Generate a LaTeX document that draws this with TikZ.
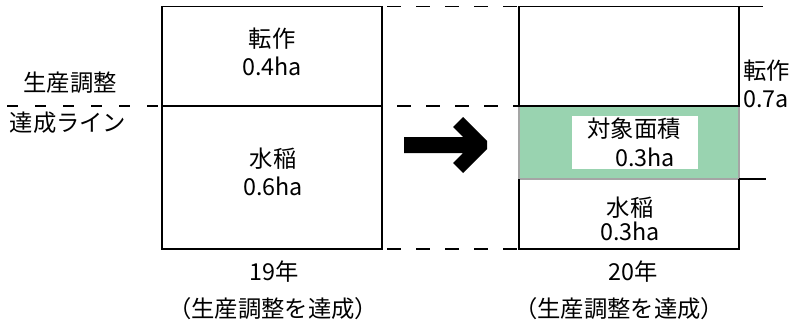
\documentclass[tikz,border=0pt]{standalone}
\usepackage{fontspec}
\setmainfont[FakeBold=0.6,AutoFakeBold=0]{Noto Sans CJK JP}
\definecolor{targetgreen}{RGB}{153,211,176}
\definecolor{targetedge}{RGB}{165,165,165}
\tikzstyle{lbl} = [align=center, inner sep=0pt, font={\fontsize{17.5}{21}\selectfont\bfseries}]
\tikzstyle{frame} = [draw=black, line width=1pt]
\tikzstyle{guide} = [line width=1pt, dash pattern=on 10.5pt off 11.25pt]
\tikzstyle{baseguide} = [line width=1pt, dash pattern=on 8.25pt off 12.75pt]
\tikzstyle{target} = [fill=targetgreen, draw=targetedge, line width=1pt]
\tikzstyle{whitebox} = [fill=white, inner sep=0pt, minimum width=94.5pt, minimum height=39.75pt]

\begin{document}
\begin{tikzpicture}[x=0.75pt,y=-0.75pt]
    \useasboundingbox (0,0) rectangle (796,329);
    % corners of the two bars
    \coordinate (l-nw) at (162,6.5);
    \coordinate (l-ne) at (382,6.5);
    \coordinate (l-w) at (162,106);
    \coordinate (l-e) at (382,106);
    \coordinate (l-sw) at (162,249);
    \coordinate (l-se) at (382,249);
    \coordinate (r-nw) at (519,6.5);
    \coordinate (r-ne) at (739,6.5);
    \coordinate (r-w) at (519,106);
    \coordinate (r-e) at (739,106);
    \coordinate (r-gw) at (519,179);
    \coordinate (r-ge) at (739,179);
    \coordinate (r-sw) at (519,249);
    \coordinate (r-se) at (739,249);
    \coordinate (b-top) at (763,6.5);
    \coordinate (b-low) at (766,179);
    \coordinate (line-start) at (7,106);
    % 19年
    \draw[frame] (l-nw) rectangle (l-se);
    \draw[frame] (l-w)--(l-e);
    % 20年
    \draw[target] (r-w) rectangle (r-ge);
    \draw[frame] (r-nw) rectangle (r-e);
    \draw[frame] (r-gw)--(r-sw)--(r-se)--(r-ge);
    \draw[frame] (r-ne)--(b-top);
    \draw[frame] (r-ge)--(b-low);
    % guides
    \draw[baseguide] (line-start)--(l-w);
    \draw[guide] (l-ne) ++(5,0)--(r-nw);
    \draw[guide] (l-e) ++(15,0)--(r-w);
    \draw[guide] (l-se) ++(5,0)--(r-sw);
    % arrow
    \fill[black] (404,137)--(463,137)--(453,127)--(463,117)--(487,141)--(487,149)
        --(463,173)--(453,163)--(463,153)--(404,153)--cycle;
    % labels
    \node[lbl](line-up) at (70,83){生産調整};
    \node[lbl](line-down) at (68,123){達成ライン};
    \node[lbl](tensaku19) at (272,52){転作\\0.4ha};
    \node[lbl](suito19) at (273,172){水稲\\0.6ha};
    \node[lbl](year19) at (274,272){19年};
    \node[lbl](note19) at (273,309){（生産調整を達成）};
    \node[whitebox](target) at (635,142.5){};
    \node[lbl](taisho) at (634,129){対象面積};
    \node[lbl](taisho-ha) at (645,157){0.3ha};
    \node[lbl,font={\fontsize{17.5}{18.5}\selectfont\bfseries}](suito20) at (630,219){水稲\\0.3ha};
    \node[lbl](year20) at (633,272){20年};
    \node[lbl](note20) at (619,309){（生産調整を達成）};
    \node[lbl,anchor=west,align=left](tensaku20) at (743,84){転作\\0.7a};
  \end{tikzpicture}
\end{document}
